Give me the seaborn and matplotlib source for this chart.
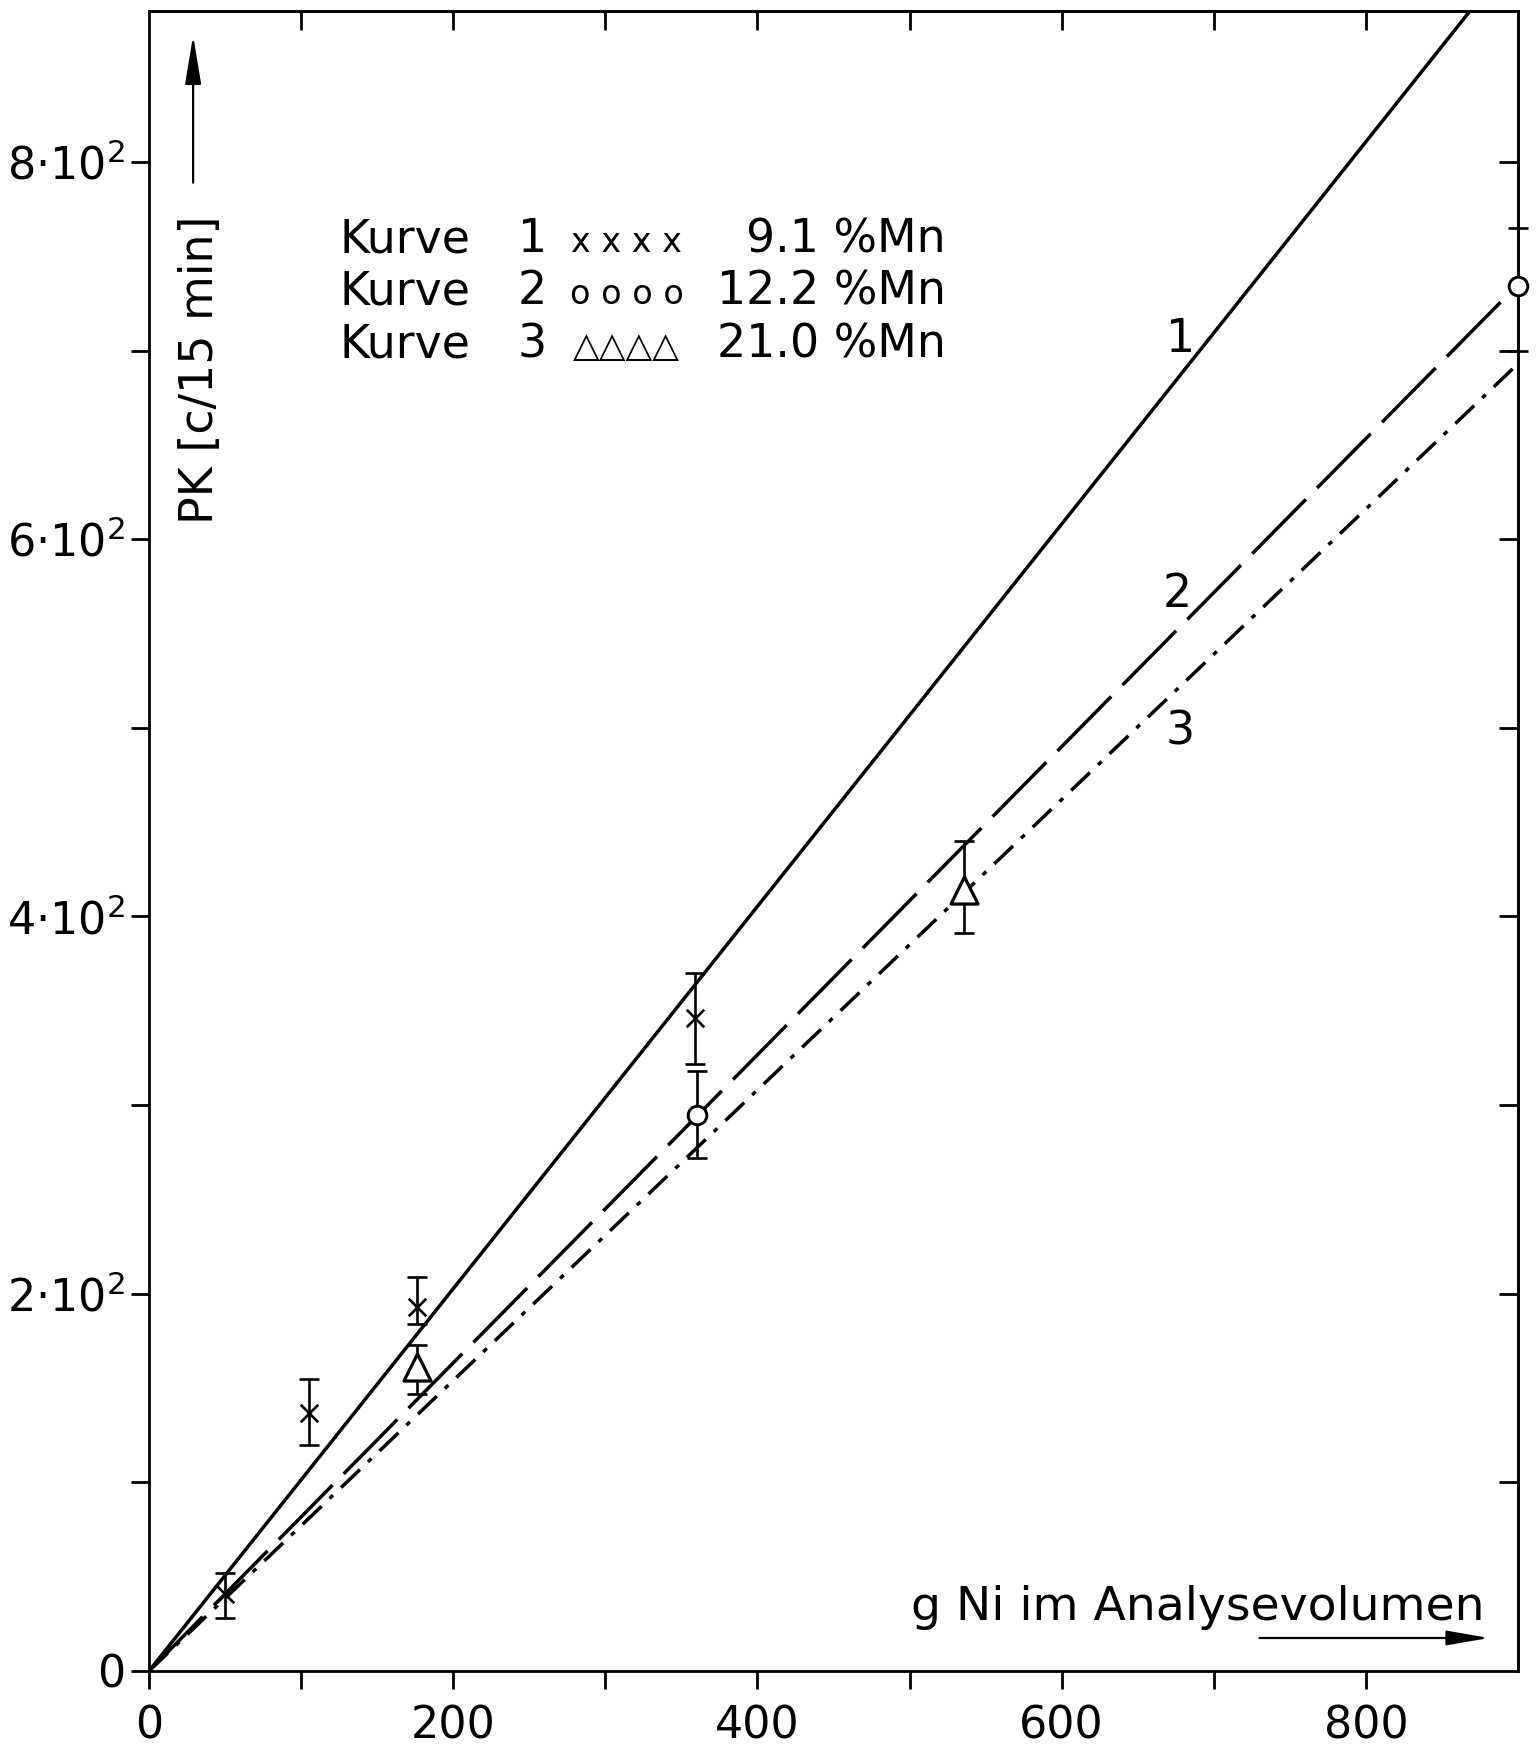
import numpy as np
import pandas as pd
import matplotlib
matplotlib.use("Agg")
import matplotlib.pyplot as plt
import seaborn as sns

# Calibration lines (straight, through the origin): x end points and y values
line_x = [0, 900]
curve1_y = [0, 912]
curve2_y = [0, 735]
curve3_y = [0, 693]

# Measured points with asymmetric error bars
cross_x = [50, 105, 176, 359]
cross_y = [41, 137, 193, 346]
cross_lo = [13, 17, 9, 24]
cross_hi = [11, 18, 16, 24]

circle_x = [360, 900]
circle_y = [295, 734]
circle_lo = [23, 34]
circle_hi = [23, 31]

tri_x = [176, 536]
tri_y = [161, 414]
tri_lo = [14, 23]
tri_hi = [12, 26]

x_ticks = [0, 200, 400, 600, 800]
x_minor = [100, 300, 500, 700]
y_ticks = [0, 200, 400, 600, 800]
y_minor = [100, 300, 500, 700]
y_tick_labels = ["0", "2·10$^2$", "4·10$^2$", "6·10$^2$", "8·10$^2$"]
frame_ticks = [100, 200, 300, 400, 500, 600, 700, 800]

legend_nums = ["1", "2", "3"]
legend_marks = ["x x x x", "o o o o", "△△△△"]
legend_vals = ["9.1 %Mn", "12.2 %Mn", "21.0 %Mn"]

sns.set_style("white")
plt.rcParams["font.family"] = ["DejaVu Sans"]
plt.rcParams["mathtext.fontset"] = "dejavusans"
for key in ["text.color", "axes.labelcolor", "xtick.color", "ytick.color",
            "axes.edgecolor"]:
    plt.rcParams[key] = "black"

W, H = 1537, 1755
fig = plt.figure(figsize=(W / 100, H / 100), dpi=100)
left, right, bottom, top = 149, 1518, 1671, 11
ax = fig.add_axes([left / W, 1 - bottom / H, (right - left) / W, (bottom - top) / H])
ax.set_xlim(0, 900)
ax.set_ylim(0, 880)

lw = 2.5
sns.lineplot(x=line_x, y=curve1_y, ax=ax, color="black", lw=lw)
sns.lineplot(x=line_x, y=curve2_y, ax=ax, color="black", lw=lw,
             linestyle=(0, (22, 4.6)))
sns.lineplot(x=line_x, y=curve3_y, ax=ax, color="black", lw=lw,
             linestyle=(0, (7.5, 3.2, 1.4, 3.2)))

# error bars
for xs, ys, lo, hi in [(cross_x, cross_y, cross_lo, cross_hi),
                       (circle_x, circle_y, circle_lo, circle_hi),
                       (tri_x, tri_y, tri_lo, tri_hi)]:
    ax.errorbar(xs, ys, yerr=[lo, hi], fmt="none", ecolor="black",
                elinewidth=1.9, capsize=7, capthick=1.9, clip_on=False, zorder=3)

sns.scatterplot(x=cross_x, y=cross_y, ax=ax, marker="x", s=160, color="black",
                linewidth=1.9, zorder=4, clip_on=False)
sns.scatterplot(x=circle_x, y=circle_y, ax=ax, marker="o", s=180, facecolor="white",
                edgecolor="black", linewidth=2.1, zorder=4, clip_on=False)
sns.scatterplot(x=tri_x, y=tri_y, ax=ax, marker="^", s=380, facecolor="white",
                edgecolor="black", linewidth=2.3, zorder=4, clip_on=False)

# frame and ticks
for sp in ax.spines.values():
    sp.set_visible(True)
    sp.set_linewidth(2.0)
    sp.set_color("black")
ax.set_xticks(x_ticks)
ax.set_xticklabels([str(v) for v in x_ticks])
ax.set_xticks(x_minor, minor=True)
ax.set_yticks(y_ticks)
ax.set_yticklabels(y_tick_labels)
ax.set_yticks(y_minor, minor=True)
ax.tick_params(which="both", direction="out", length=13, width=2.0, color="black",
               bottom=True, left=True, top=False, right=False)
ax.tick_params(axis="x", which="major", labelsize=32, pad=11, labelcolor="black")
ax.tick_params(axis="y", which="major", labelsize=32, pad=4, labelcolor="black")

sec_x = ax.secondary_xaxis("top")
sec_x.set_ticks(frame_ticks)
sec_x.tick_params(direction="in", length=14, width=2.0, color="black", labeltop=False)
sec_x.spines["top"].set_linewidth(2.0)
sec_x.spines["top"].set_color("black")
sec_y = ax.secondary_yaxis("right")
sec_y.set_ticks(frame_ticks)
sec_y.tick_params(direction="in", length=14, width=2.0, color="black", labelright=False)
sec_y.spines["right"].set_linewidth(2.0)
sec_y.spines["right"].set_color("black")

ax.set_xlabel("")
ax.set_ylabel("")

fs = 33
# axis titles with arrows, inside the frame
ax.text(34, 690, "PK [c/15 min]", rotation=90, ha="center", va="center",
        fontsize=fs, color="black")
ax.annotate("", xy=(29, 867), xytext=(29, 789),
            arrowprops=dict(arrowstyle="-|>,head_length=3.0,head_width=0.5",
                            mutation_scale=10, lw=1.6, color="black",
                            shrinkA=0, shrinkB=0))
ax.text(878, 27, "g Ni im Analysevolumen", ha="right", va="baseline",
        fontsize=34, color="black")
ax.annotate("", xy=(881, 17.5), xytext=(730, 17.5),
            arrowprops=dict(arrowstyle="-|>,head_length=2.6,head_width=0.45",
                            mutation_scale=10, lw=1.6, color="black",
                            shrinkA=0, shrinkB=0))

# key
row_base = [752, 724.5, 696.5]
for yb, num, mk, val in zip(row_base, legend_nums, legend_marks, legend_vals):
    ax.text(125, yb, "Kurve", ha="left", va="baseline", fontsize=fs, color="black")
    ax.text(252, yb, num, ha="center", va="baseline", fontsize=fs, color="black")
    ax.text(314, yb, mk, ha="center", va="baseline", color="black",
            fontsize=25 if mk.startswith("△") else 24)
    ax.text(524, yb, val, ha="right", va="baseline", fontsize=fs, color="black")

# curve numbers
for (cx, cy), lab in zip([(678, 699), (676, 564), (678, 491)], ["1", "2", "3"]):
    ax.text(cx, cy, lab, ha="center", va="baseline", fontsize=fs, color="black")

fig.savefig("out.png", dpi=100, facecolor="white")
